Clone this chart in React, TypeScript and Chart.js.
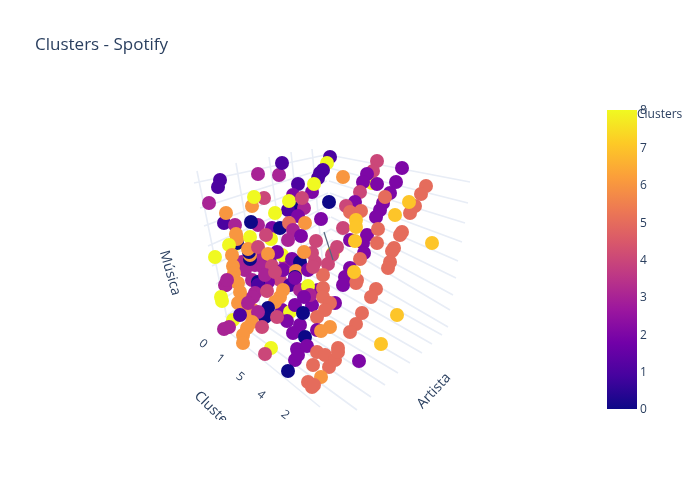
import React, { useEffect, useRef } from "react";
import { Chart, registerables } from "chart.js";

Chart.register(...registerables);

const titleText = "Clusters - Spotify";
const colorbarTitle = "Clusters";
const colorbarTicks = [0, 1, 2, 3, 4, 5, 6, 7, 8];
const plasmaStops = ["#0d0887", "#46039f", "#7201a8", "#9c179e", "#bd3786", "#d8576b", "#ed7953", "#fb9f3a", "#fdca26", "#f0f921"];

const clusterTickLabels = ["0", "1", "5", "4", "2"];
const clusterTickX = [203, 220, 240, 261, 285];
const clusterTickY = [344, 359, 377, 395, 415];

// Projected position of each marker on the page plane, and its cluster, in depth order.
const pointX = [
  262, 255, 270, 286, 242, 245, 280, 268, 252, 290,
  315, 318, 300, 282, 312, 300, 246, 253,
  330, 327, 323, 320, 318, 312, 314, 298, 293, 292,
  288, 289, 304, 302, 298, 220, 218, 279, 282, 258,
  209, 224, 226, 264, 252, 254, 275, 235, 258, 251,
  272, 280, 305, 321, 289, 329, 343, 293, 288, 301,
  236, 237, 237, 236, 229, 250, 215, 271, 266, 250,
  250, 249, 248, 232, 233, 234, 282, 277, 258, 268,
  263, 272, 283, 292, 300, 296, 295, 308, 333, 316,
  312, 337, 332, 328, 323, 304, 313, 372, 377, 373,
  367, 363, 377, 360, 402, 396, 390, 383, 380, 376,
  385, 426, 421, 415, 410, 409, 395, 355, 346, 350,
  361, 343, 350, 367, 363, 364, 356, 356, 355, 378,
  377, 402, 400, 394, 392, 390, 388, 432, 360, 350,
  345, 357, 356, 354, 343, 376, 371, 362, 356, 350,
  397, 381, 359, 233, 308, 226, 290, 310, 304, 295,
  258, 295, 303, 287, 293, 305, 297, 307, 295, 298,
  288, 233, 238, 240, 242, 238, 225, 258, 255, 253,
  248, 267, 283, 280, 275, 268, 265, 258, 277, 240,
  229, 224, 252, 247, 243, 243, 262, 221, 222, 271,
  265, 323, 323, 335, 330, 325, 317, 317, 330, 321,
  313, 317, 325, 329, 335, 338, 338, 321, 308, 312,
  314, 265, 275, 227,
];
const pointY = [
  258, 265, 258, 262, 262, 270, 280, 282, 280, 285,
  262, 290, 290, 310, 305, 325, 312, 310,
  157, 163, 170, 173, 178, 192, 184, 184, 195, 207,
  210, 201, 208, 198, 216, 180, 187, 175, 163, 174,
  203, 223, 213, 198, 206, 197, 213, 225, 225, 222,
  228, 228, 223, 219, 223, 202, 177, 230, 240, 236,
  244, 243, 239, 234, 245, 237, 257, 239, 235, 259,
  255, 252, 249, 255, 266, 273, 255, 252, 247, 254,
  267, 266, 270, 259, 262, 271, 277, 270, 253, 241,
  253, 247, 255, 264, 275, 252, 267, 183, 161, 171,
  174, 182, 184, 192, 168, 182, 193, 203, 210, 217,
  197, 186, 194, 206, 213, 202, 215, 202, 206, 212,
  211, 228, 240, 235, 243, 253, 220, 227, 241, 229,
  243, 232, 235, 248, 251, 262, 268, 243, 259, 268,
  277, 280, 283, 272, 285, 289, 297, 313, 324, 332,
  315, 344, 361, 320, 286, 285, 312, 295, 297, 278,
  282, 305, 313, 321, 333, 337, 349, 346, 360, 355,
  371, 278, 283, 292, 298, 303, 285, 285, 293, 297,
  303, 291, 290, 297, 302, 308, 317, 312, 317, 315,
  327, 329, 322, 328, 335, 343, 327, 297, 301, 348,
  354, 288, 297, 303, 303, 310, 317, 330, 327, 331,
  365, 352, 355, 367, 360, 348, 352, 377, 382, 387,
  385, 275, 272, 280,
];
const pointCluster = [
  3, 3, 2, 3, 3, 3, 4, 2, 3, 1,
  4, 2, 3, 2, 2, 2, 6, 6,
  1, 8, 1, 1, 1, 2, 8, 1, 2, 0,
  1, 8, 3, 4, 2, 1, 1, 3, 1, 3,
  3, 1, 6, 4, 6, 8, 8, 3, 3, 0,
  2, 0, 6, 2, 5, 0, 6, 3, 3, 2,
  8, 0, 6, 6, 8, 8, 8, 8, 4, 0,
  6, 0, 6, 6, 6, 6, 8, 2, 4, 6,
  3, 4, 2, 2, 0, 6, 0, 2, 8, 4,
  4, 4, 4, 4, 5, 6, 4, 8, 4, 4,
  2, 2, 2, 4, 2, 2, 2, 2, 2, 2,
  5, 5, 5, 5, 5, 7, 7, 2, 4, 5,
  5, 4, 2, 2, 2, 2, 7, 7, 7, 5,
  5, 5, 5, 5, 5, 5, 5, 7, 5, 2,
  2, 5, 5, 7, 2, 5, 5, 5, 5, 5,
  7, 7, 2, 8, 8, 3, 8, 3, 2, 2,
  0, 2, 0, 2, 2, 0, 2, 2, 2, 2,
  0, 6, 6, 6, 6, 6, 3, 1, 3, 3,
  3, 4, 6, 6, 6, 0, 0, 3, 4, 1,
  3, 3, 6, 6, 6, 6, 4, 8, 8, 8,
  4, 5, 5, 2, 5, 5, 5, 2, 6, 6,
  5, 5, 5, 5, 5, 5, 5, 6, 5, 5,
  5, 3, 4, 3,
];

// Wall and floor grid lines as [x1, y1, x2, y2].
const leftWallVerticals = [
  [197, 171, 230, 333], [236, 163, 261, 311], [269, 157, 288, 292], [291, 152, 305, 280], [312, 149, 323, 267],
];
const leftWallHorizontals = [
  [194, 183, 325, 155], [200, 208, 326, 168], [204, 226, 327, 181], [208, 246, 328, 193],
  [212, 266, 329, 205], [216, 284, 330, 217], [220, 301, 331, 229], [225, 317, 332, 240],
];
const rightWallLines = [
  [329, 155, 470, 182], [329, 168, 468, 203], [329, 181, 465, 223], [330, 193, 462, 242], [330, 205, 458, 261],
  [331, 217, 456, 278], [331, 229, 453, 295], [332, 240, 450, 310], [333, 260, 448, 327],
];
const floorLines = [
  [230, 333, 320, 407], [241, 325, 357, 410], [253, 317, 371, 397], [265, 308, 385, 385], [276, 300, 398, 373],
  [288, 292, 410, 363], [300, 283, 422, 353], [311, 275, 432, 344], [322, 268, 442, 335],
];
const axisLineSegment = [324, 232, 333, 260];

const gridSegments = [...leftWallVerticals, ...leftWallHorizontals, ...rightWallLines, ...floorLines];

const textColor = "#2a3f5f";
const fontFamily = '"Open Sans", sans-serif';

function hexToRgb(hex: string) {
  return [1, 3, 5].map((i) => parseInt(hex.slice(i, i + 2), 16));
}

function plasma(t: number) {
  const pos = Math.max(0, Math.min(1, t)) * (plasmaStops.length - 1);
  const i = Math.min(Math.floor(pos), plasmaStops.length - 2);
  const f = pos - i;
  const a = hexToRgb(plasmaStops[i]);
  const b = hexToRgb(plasmaStops[i + 1]);
  const c = a.map((v, k) => Math.round(v + (b[k] - v) * f));
  return `rgb(${c[0]},${c[1]},${c[2]})`;
}

function segmentsToPoints(segs: number[][]) {
  const out: any[] = [];
  segs.forEach(([x1, y1, x2, y2]) => {
    out.push({ x: x1, y: y1 }, { x: x2, y: y2 }, { x: null, y: null });
  });
  return out;
}

function rotatedText(ctx: CanvasRenderingContext2D, text: string, x: number, y: number, deg: number, size: number) {
  ctx.save();
  ctx.translate(x, y);
  ctx.rotate((deg * Math.PI) / 180);
  ctx.font = `${size}px ${fontFamily}`;
  ctx.fillStyle = textColor;
  ctx.textAlign = "center";
  ctx.textBaseline = "middle";
  ctx.fillText(text, 0, 0);
  ctx.restore();
}

const annotationPlugin = {
  id: "annotationPlugin",
  afterDraw(chart: any) {
    const ctx: CanvasRenderingContext2D = chart.ctx;
    ctx.save();
    ctx.font = `17px ${fontFamily}`;
    ctx.fillStyle = textColor;
    ctx.textAlign = "left";
    ctx.textBaseline = "middle";
    ctx.fillText(titleText, 35, 45);
    ctx.restore();

    ctx.save();
    ctx.beginPath();
    ctx.rect(0, 0, 700, 420);
    ctx.clip();
    rotatedText(ctx, "Música", 170, 273, 74, 14);
    rotatedText(ctx, "Cluster", 213, 410, 45, 14);
    rotatedText(ctx, "Artista", 434, 391, -47, 14);
    clusterTickLabels.forEach((t, i) => rotatedText(ctx, t, clusterTickX[i], clusterTickY[i], 38, 12));
    ctx.restore();

    const top = 110;
    const bottom = 409;
    const grad = ctx.createLinearGradient(0, bottom, 0, top);
    plasmaStops.forEach((c, i) => grad.addColorStop(i / (plasmaStops.length - 1), c));
    ctx.fillStyle = grad;
    ctx.fillRect(607, top, 30, bottom - top);

    const maxTick = colorbarTicks[colorbarTicks.length - 1];
    ctx.save();
    ctx.font = `12px ${fontFamily}`;
    ctx.fillStyle = textColor;
    ctx.textAlign = "left";
    ctx.textBaseline = "middle";
    colorbarTicks.forEach((t) => {
      ctx.fillText(String(t), 640, bottom + 1 - ((bottom - top) * t) / maxTick);
    });
    ctx.fillText(colorbarTitle, 637, 115);
    ctx.restore();
  },
};

export default function App() {
  const ref = useRef<HTMLCanvasElement>(null);
  useEffect(() => {
    document.body.style.margin = "0";
    const chart = new Chart(ref.current as HTMLCanvasElement, {
      type: "scatter",
      data: {
        datasets: [
          {
            label: "Axis line",
            data: segmentsToPoints([axisLineSegment]),
            showLine: true,
            borderColor: "#55677f",
            borderWidth: 1.2,
            pointRadius: 0,
            order: 0,
          },
          {
            label: "Clusters",
            data: pointX.map((x, i) => ({ x, y: pointY[i] })),
            backgroundColor: pointCluster.map((c) => plasma(c / 8)),
            borderWidth: 0,
            pointRadius: 7,
            order: 1,
          },
          {
            label: "Grid",
            data: segmentsToPoints(gridSegments),
            showLine: true,
            spanGaps: false,
            borderColor: "#e8edf6",
            borderWidth: 1.6,
            pointRadius: 0,
            order: 2,
          },
        ],
      },
      options: {
        animation: false,
        responsive: false,
        layout: { padding: 0, autoPadding: false },
        plugins: { legend: { display: false }, title: { display: false }, tooltip: { enabled: false } },
        scales: {
          x: { type: "linear", min: 0, max: 700, display: false },
          y: { type: "linear", min: 0, max: 500, reverse: true, display: false },
        },
      },
      plugins: [annotationPlugin],
    } as any);
    return () => chart.destroy();
  }, []);
  return (
    <div style={{ width: 700, height: 500, background: "#fff" }}>
      <canvas ref={ref} width={700} height={500} style={{ display: "block" }} />
    </div>
  );
}
